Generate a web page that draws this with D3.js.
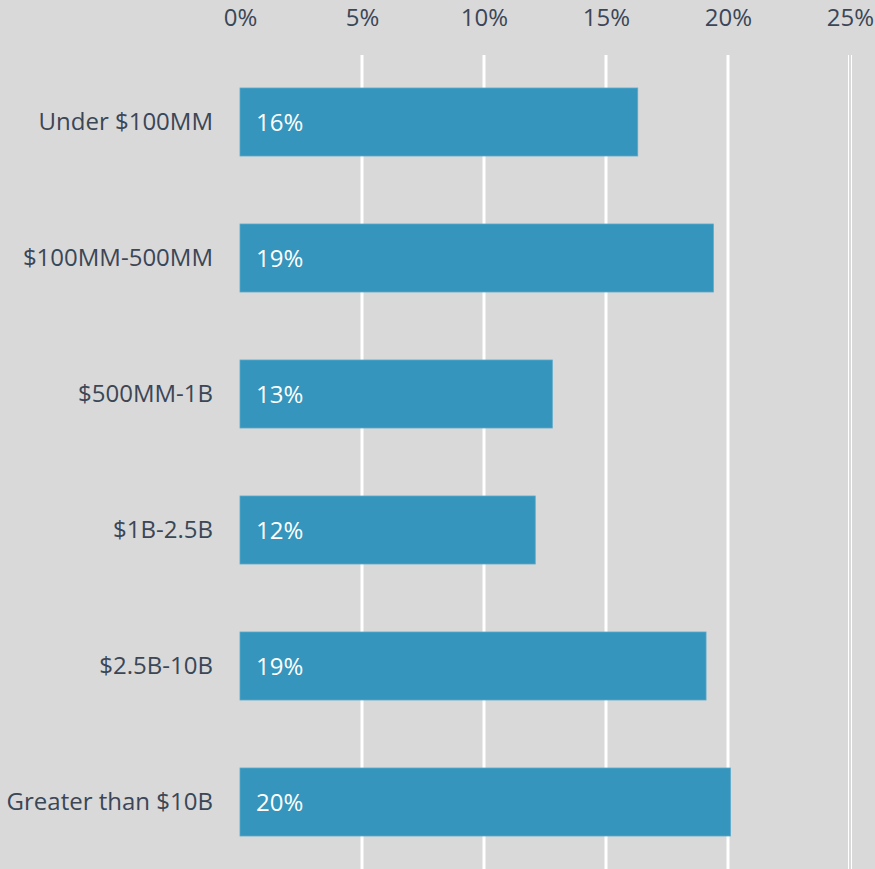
<!DOCTYPE html>
<html>
<head>
<meta charset="utf-8">
<script src="https://cdn.jsdelivr.net/npm/d3@7"></script>
<style>
  html, body { margin: 0; padding: 0; background: #d9d9d9; }
  svg { display: block; }
  text { font-family: "Open Sans", "Noto Sans", sans-serif; }
</style>
</head>
<body>
<div id="chart"></div>
<script>
const categories = ["Under $100MM", "$100MM-500MM", "$500MM-1B", "$1B-2.5B", "$2.5B-10B", "Greater than $10B"];
const values = [16.3, 19.4, 12.8, 12.1, 19.1, 20.1];
const tickValues = [0, 5, 10, 15, 20, 25];
const tickLabels = ["0%", "5%", "10%", "15%", "20%", "25%"];

const W = 875, H = 869;
const FS = 24;
const svg = d3.select("#chart").append("svg").attr("width", W).attr("height", H);
svg.append("rect").attr("width", W).attr("height", H).attr("fill", "#d9d9d9");

const x = d3.scaleLinear().domain([0, 25]).range([240, 850]);
const y = d3.scaleBand().domain(categories).range([54, 870]).paddingInner(0.5).paddingOuter(0.25);

// gridlines
svg.append("g").selectAll("line")
  .data(tickValues.filter(v => v > 0 && v < 25))
  .join("line")
  .attr("x1", d => x(d)).attr("x2", d => x(d))
  .attr("y1", 55).attr("y2", H)
  .attr("stroke", "#ffffff").attr("stroke-width", 3);
// double thin line at 25%
[-2, 1].forEach(off => {
  svg.append("line")
    .attr("x1", x(25) + off + 0.5).attr("x2", x(25) + off + 0.5)
    .attr("y1", 55).attr("y2", H)
    .attr("stroke", "#ffffff").attr("stroke-width", 1);
});

// top axis
const axis = d3.axisTop(x).tickValues(tickValues).tickFormat((d, i) => tickLabels[i]).tickSize(0).tickPadding(0);
const gAxis = svg.append("g").attr("transform", "translate(0,26)").call(axis)
  .attr("font-size", FS).attr("font-family", '"Open Sans", "Noto Sans", sans-serif');
gAxis.select(".domain").remove();
gAxis.selectAll("text")
  .attr("fill", "#3b4656")
  .attr("dy", 0);

// bars
const data = categories.map((c, i) => ({ c, v: values[i] }));
svg.append("g").selectAll("rect")
  .data(data)
  .join("rect")
  .attr("x", x(0))
  .attr("y", d => y(d.c))
  .attr("width", d => x(d.v) - x(0))
  .attr("height", y.bandwidth())
  .attr("fill", "#3595bc")
  .attr("stroke", "#5aa9c9")
  .attr("stroke-width", 0.8);

// value labels
svg.append("g").selectAll("text")
  .data(data)
  .join("text")
  .attr("x", x(0) + 16)
  .attr("y", d => y(d.c) + y.bandwidth() / 2)
  .attr("dy", "0.36em")
  .attr("fill", "#ffffff")
  .attr("font-size", FS)
  .text(d => Math.round(d.v) + "%");

// category labels
const yAxis = d3.axisLeft(y).tickSize(0).tickPadding(0);
const gY = svg.append("g").attr("transform", "translate(213,0)").call(yAxis)
  .attr("font-size", FS).attr("font-family", '"Open Sans", "Noto Sans", sans-serif');
gY.select(".domain").remove();
gY.selectAll("text")
  .attr("fill", "#3b4656")
  .attr("dy", "0.33em");
</script>
</body>
</html>
